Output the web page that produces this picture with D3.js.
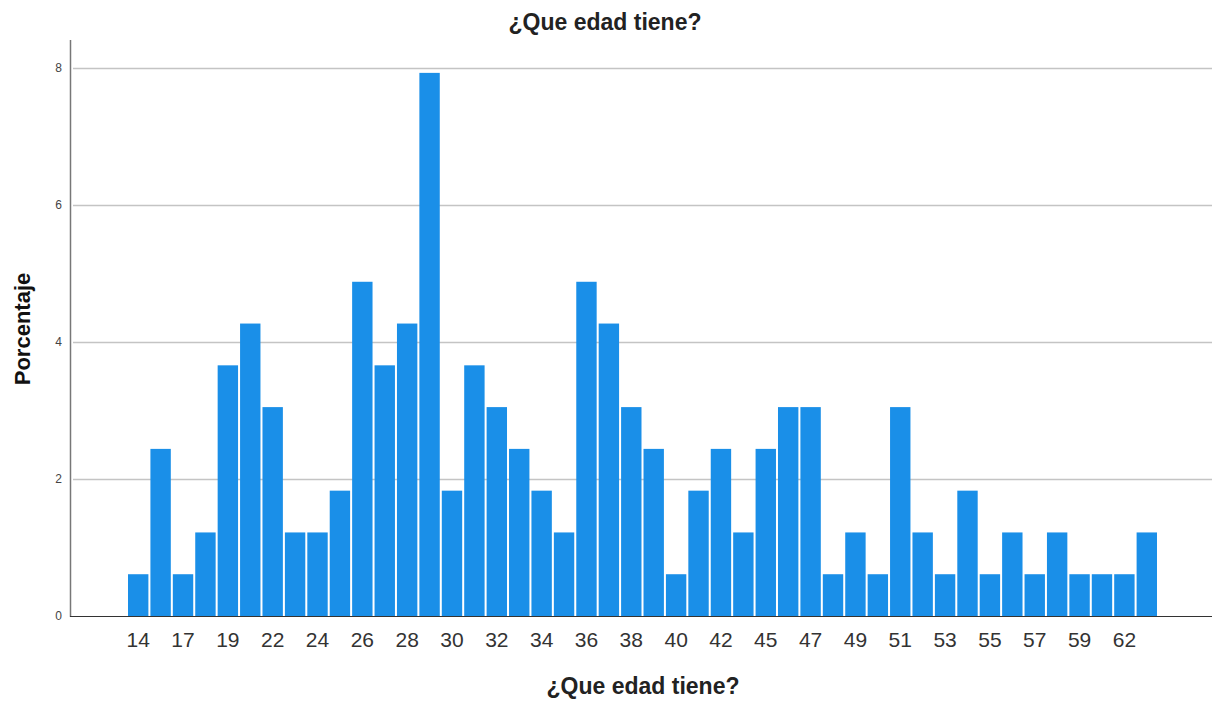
<!DOCTYPE html>
<html>
<head>
<meta charset="utf-8">
<script src="https://cdn.jsdelivr.net/npm/d3@7"></script>
<style>
  body { margin: 0; background: #fff; }
  svg { display: block; font-family: Arial, "Liberation Sans", sans-serif; }
</style>
</head>
<body>
<div id="chart"></div>
<script>
// ages present in the survey (one bar each)
const ages = [14, 16, 17, 18, 19, 20, 22, 23, 24, 25, 26, 27, 28, 29, 30, 31, 32, 33, 34, 35,
  36, 37, 38, 39, 40, 41, 42, 43, 45, 46, 47, 48, 49, 50, 51, 52, 53, 54, 55, 56,
  57, 58, 59, 60, 62, 63];
// percentage of respondents
const pct = [0.61, 2.44, 0.61, 1.22, 3.66, 4.27, 3.05, 1.22, 1.22, 1.83, 4.88, 3.66, 4.27, 7.93, 1.83, 3.66, 3.05, 2.44, 1.83, 1.22,
  4.88, 4.27, 3.05, 2.44, 0.61, 1.83, 2.44, 1.22, 2.44, 3.05, 3.05, 0.61, 1.22, 0.61, 3.05, 1.22, 0.61, 1.83, 0.61, 1.22,
  0.61, 1.22, 0.61, 0.61, 0.61, 1.22];
const yTicks = [0, 2, 4, 6, 8];

const data = ages.map((a, i) => ({age: a, value: pct[i]}));

const width = 1212;
const height = 701;
const plot = {left: 70, right: 1212, top: 40, bottom: 616};

const svg = d3.select("#chart").append("svg")
  .attr("width", width)
  .attr("height", height);

const x = d3.scaleBand()
  .domain(ages)
  .range([128, 1157])
  .paddingInner(0.09)
  .paddingOuter(0);

const y = d3.scaleLinear()
  .domain([0, 8.41])
  .range([plot.bottom, plot.top]);

// grid
svg.append("g")
  .selectAll("line")
  .data(yTicks.filter(d => d > 0))
  .join("line")
    .attr("x1", plot.left + 3)
    .attr("x2", plot.right)
    .attr("y1", d => Math.round(y(d)) + 0.5)
    .attr("y2", d => Math.round(y(d)) + 0.5)
    .attr("stroke", "#c4c4c4")
    .attr("stroke-width", 1.5);

// bars
svg.append("g")
  .selectAll("rect")
  .data(data)
  .join("rect")
    .attr("x", d => x(d.age))
    .attr("y", d => y(d.value))
    .attr("width", x.bandwidth())
    .attr("height", d => y(0) - y(d.value))
    .attr("fill", "#1a8fe8");

// y axis
const yAxis = g => g
  .attr("transform", `translate(${plot.left},0)`)
  .call(d3.axisLeft(y).tickValues(yTicks).tickSize(0).tickPadding(8))
  .call(g => g.select(".domain").remove())
  .call(g => g.selectAll("text")
    .attr("fill", "#444")
    .attr("font-size", 12));

svg.append("g").call(yAxis);

svg.append("line")
  .attr("x1", plot.left + 0.5).attr("x2", plot.left + 0.5)
  .attr("y1", plot.top).attr("y2", plot.bottom + 1)
  .attr("stroke", "#777")
  .attr("stroke-width", 1.5);

// x axis: label every other category
const xAxis = g => g
  .attr("transform", `translate(0,${plot.bottom})`)
  .call(d3.axisBottom(x)
    .tickValues(ages.filter((d, i) => i % 2 === 0))
    .tickSize(0)
    .tickPadding(16))
  .call(g => g.select(".domain").remove())
  .call(g => g.selectAll("text")
    .attr("fill", "#333")
    .attr("font-size", 21));

svg.append("g").call(xAxis);

svg.append("line")
  .attr("x1", plot.left).attr("x2", plot.right)
  .attr("y1", plot.bottom + 0.5).attr("y2", plot.bottom + 0.5)
  .attr("stroke", "#333")
  .attr("stroke-width", 1.2);

// titles
svg.append("text")
  .attr("x", 605)
  .attr("y", 30)
  .attr("text-anchor", "middle")
  .attr("font-size", 23)
  .attr("font-weight", "bold")
  .attr("fill", "#222")
  .text("¿Que edad tiene?");

svg.append("text")
  .attr("x", 643)
  .attr("y", 694)
  .attr("text-anchor", "middle")
  .attr("font-size", 23)
  .attr("font-weight", "bold")
  .attr("fill", "#222")
  .text("¿Que edad tiene?");

svg.append("text")
  .attr("transform", "translate(30,329) rotate(-90)")
  .attr("text-anchor", "middle")
  .attr("font-size", 22)
  .attr("font-weight", "bold")
  .attr("fill", "#111")
  .text("Porcentaje");
</script>
</body>
</html>
